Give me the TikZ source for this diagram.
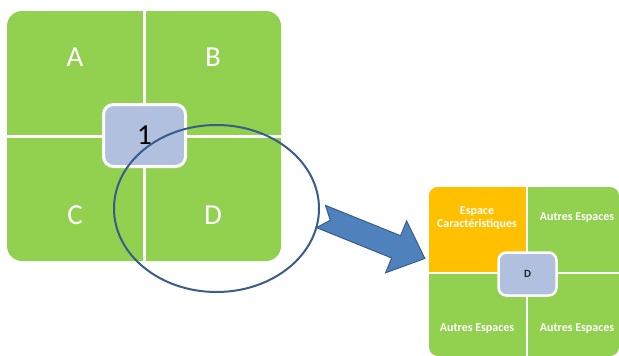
\documentclass[tikz,border=0pt]{standalone}
\usepackage{fontspec}
\setmainfont{Carlito}
\usetikzlibrary{shapes.geometric}

\definecolor{leaf}{RGB}{146,208,80}
\definecolor{amber}{RGB}{255,192,0}
\definecolor{slate}{RGB}{176,192,222}
\definecolor{navy}{RGB}{56,93,138}
\definecolor{steel}{RGB}{79,129,189}

\tikzset{
  hub/.style={fill=slate,draw=white,inner sep=0pt},
  sep/.style={draw=white}
}

\begin{document}
\begin{tikzpicture}[x=1pt,y=-1pt]
  \useasboundingbox (0,0) rectangle (619,356);

  \fill[leaf,rounded corners=15pt] (7,11) rectangle (281,261);
  \path[sep,line width=3pt] (144,11) -- (144,261) (7,136) -- (281,136);

  \begin{scope}[every node/.style={text=white,font=\fontsize{29}{29}\selectfont}]
    \node (A) at (75,57)  {A};
    \node (B) at (213,57) {B};
    \node (C) at (75,215) {C};
    \node (D) at (213,215) {D};
  \end{scope}

  \node[hub,line width=3pt,rounded corners=10pt,minimum width=82pt,minimum height=62pt,
        font=\fontsize{29}{29}\selectfont] (1) at (144.5,135.5) {1};

  \begin{scope}[shift={(321,216.5)},rotate=-22]
    \filldraw[fill=steel,draw=navy,line width=1pt]
      (0,-12) -- (81,-12) -- (81,-28) -- (112,0) -- (81,28) -- (81,12) -- (0,12) -- (10,0) -- cycle;
  \end{scope}

  \node[ellipse,draw=navy,line width=2pt,inner sep=0pt,minimum width=205pt,minimum height=167pt]
    (zoom) at (216.5,208.5) {};

  \fill[leaf,rounded corners=9pt] (429,187) rectangle (619,356);
  \begin{scope}
    \clip (429,187) rectangle (527,273);
    \fill[amber,rounded corners=9pt] (429,187) rectangle (619,356);
  \end{scope}
  \path[sep,line width=2.5pt] (527,187) -- (527,356) (429,273) -- (619,273);

  \begin{scope}[every node/.style={text=white,align=center,font=\bfseries\fontsize{12}{12.5}\selectfont}]
    \node (espace)  at (477,218) {Espace\\Caractéristiques};
    \node (autresB) at (577,218) {Autres Espaces};
    \node (autresC) at (477,329) {Autres Espaces};
    \node (autresD) at (577,329) {Autres Espaces};
  \end{scope}

  \node[hub,line width=2.5pt,rounded corners=8pt,minimum width=58pt,minimum height=43pt,
        text=black!85,font=\bfseries\fontsize{11}{11}\selectfont] (d) at (527.5,274) {D};

\end{tikzpicture}
\end{document}
